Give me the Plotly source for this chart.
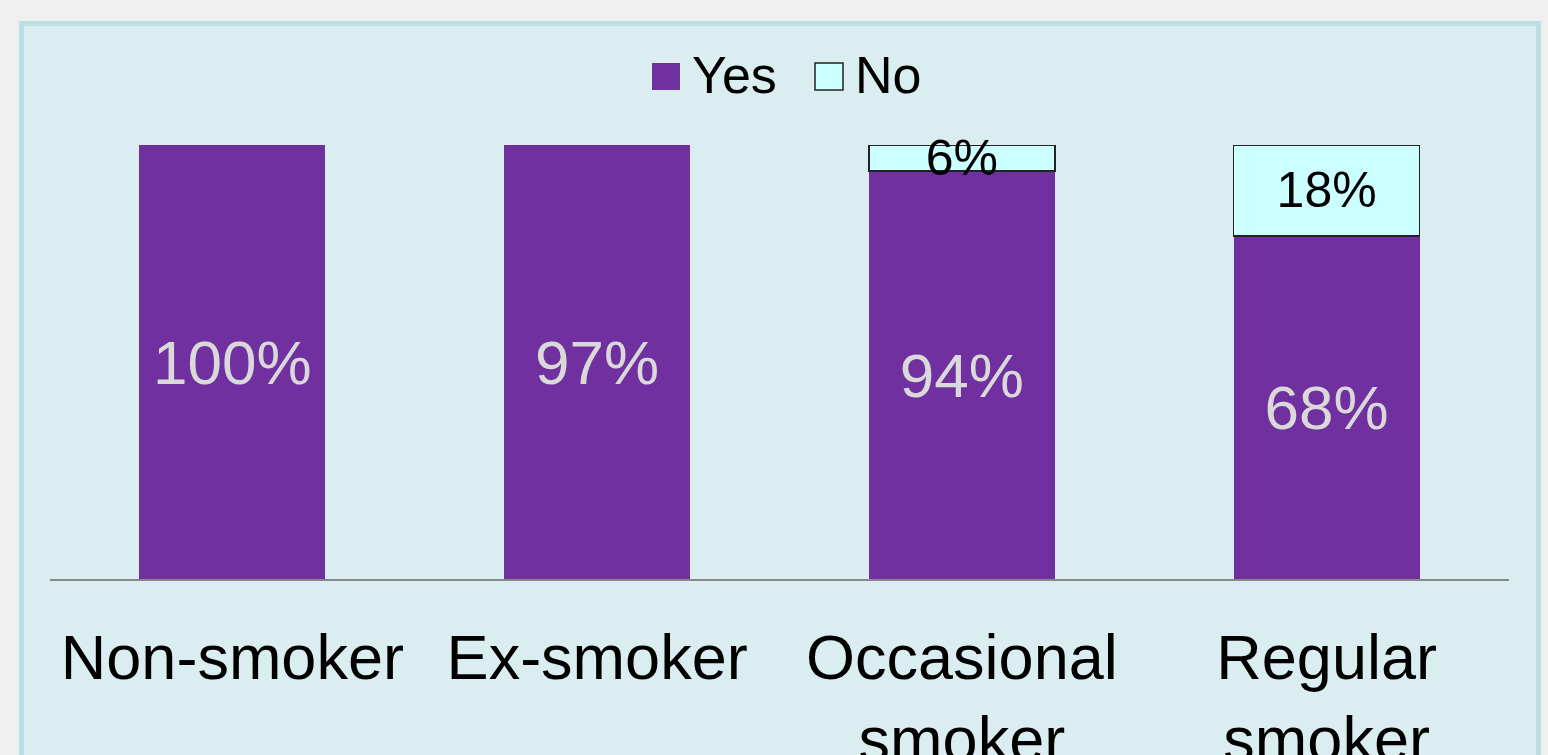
import plotly.graph_objects as go

categories = ["Non-smoker", "Ex-smoker", "Occasional<br>smoker", "Regular<br>smoker"]
series_names = ["Yes", "No"]
yes_values = [100, 97, 94, 68]
no_values = [0, 0, 6, 18]

W, H = 1548, 755
L, R, T, B = 50, 1509, 145, 579
PW, PH = R - L, B - T

def px_x(p):
    return (p - L) / PW

def px_y(p):
    return (B - p) / PH

FONT = "Liberation Sans, Arial, sans-serif"
PURPLE = "#7030a0"
CYAN = "#ccffff"

fig = go.Figure()
fig.add_trace(go.Bar(
    x=categories, y=yes_values, name=series_names[0],
    marker=dict(color=PURPLE, line=dict(width=0)),
    text=[f"{v}%" if v else "" for v in yes_values],
    textposition="inside", insidetextanchor="middle", constraintext="none",
    textfont=dict(family=FONT, size=62, color="#d9d9d9"),
    cliponaxis=False, showlegend=False,
))
fig.add_trace(go.Bar(
    x=categories, y=no_values, name=series_names[1],
    marker=dict(color=CYAN, line=dict(width=[1.5 if v else 0 for v in no_values],
                                      color="#222222")),
    text=[f"{v}%" if v else "" for v in no_values],
    textposition="inside", insidetextanchor="middle", constraintext="none",
    textfont=dict(family=FONT, size=50, color="#000000"),
    cliponaxis=False, showlegend=False,
))

shapes = [
    dict(type="rect", xref="paper", yref="paper",
         x0=px_x(21.5), x1=px_x(1538.5), y0=px_y(790), y1=px_y(23.5),
         line=dict(color="#bcdfe4", width=5), fillcolor="#daedf0", layer="below"),
    # legend swatches
    dict(type="rect", xref="paper", yref="paper",
         x0=px_x(652), x1=px_x(680), y0=px_y(90), y1=px_y(63),
         line=dict(width=0), fillcolor=PURPLE),
    dict(type="rect", xref="paper", yref="paper",
         x0=px_x(815), x1=px_x(843), y0=px_y(90), y1=px_y(63),
         line=dict(width=1.5, color="#222222"), fillcolor=CYAN),
]
annotations = [
    dict(text=series_names[0], xref="paper", yref="paper", x=px_x(690), y=px_y(75),
         xanchor="left", yanchor="middle", showarrow=False,
         font=dict(family=FONT, size=52, color="#000000")),
    dict(text=series_names[1], xref="paper", yref="paper", x=px_x(853), y=px_y(75),
         xanchor="left", yanchor="middle", showarrow=False,
         font=dict(family=FONT, size=52, color="#000000")),
]

fig.update_layout(
    width=W, height=H,
    margin=dict(l=L, r=W - R, t=T, b=H - B, pad=0, autoexpand=False),
    paper_bgcolor="#f0f0f0", plot_bgcolor="rgba(0,0,0,0)",
    barmode="stack", barnorm="percent", bargap=0.49,
    shapes=shapes, annotations=annotations,
    showlegend=False,
    font=dict(family=FONT, color="#000000"),
)
fig.update_xaxes(showline=True, linecolor="#888888", linewidth=2, showgrid=False,
                 ticks="", tickfont=dict(family=FONT, size=63, color="#000000"),
                 ticklabelstandoff=22, zeroline=False, automargin=False)
fig.update_yaxes(visible=False, range=[0, 100], showgrid=False, zeroline=False,
                 automargin=False)

fig.write_html("out.html", config={"displayModeBar": False},
               post_script="document.body.style.margin='0';document.body.style.overflow='hidden';")
